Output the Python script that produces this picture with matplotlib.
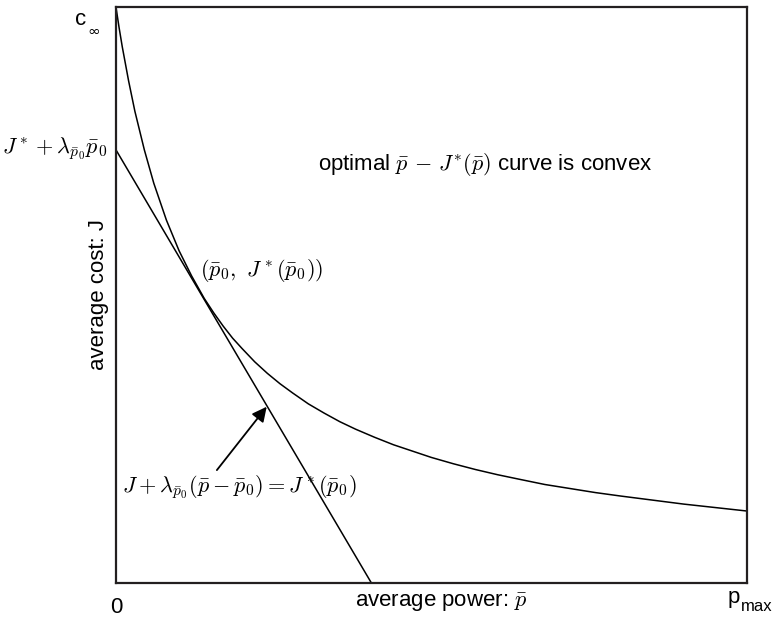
import matplotlib.pyplot as plt

plt.rcParams['font.family'] = ['Liberation Sans', 'DejaVu Sans']
plt.rcParams['mathtext.fontset'] = 'cm'

# ______________ data (p/pmax, J/c_inf) ______________
p_curve = [0.0, 0.005, 0.01, 0.02, 0.03, 0.045, 0.06, 0.08, 0.10, 0.12, 0.14,
           0.155, 0.17, 0.185, 0.20, 0.22, 0.24, 0.26, 0.28, 0.305, 0.33,
           0.355, 0.38, 0.41, 0.44, 0.47, 0.50, 0.535, 0.57, 0.605, 0.64,
           0.68, 0.72, 0.76, 0.80, 0.85, 0.90, 0.95, 1.00]
J_curve = [1.000, 0.964, 0.931, 0.872, 0.819, 0.752, 0.694, 0.630, 0.577,
           0.533, 0.494, 0.469, 0.446, 0.425, 0.407, 0.384, 0.364, 0.346,
           0.330, 0.311, 0.295, 0.280, 0.267, 0.253, 0.240, 0.229, 0.218,
           0.207, 0.197, 0.188, 0.180, 0.171, 0.164, 0.157, 0.151, 0.144,
           0.137, 0.131, 0.125]

p_tangent = [0.0, 0.405]
J_tangent = [0.752, 0.0]

arrow_tail = (0.160, 0.196)
arrow_head = (0.239, 0.306)

# ______________ plot ______________
fig = plt.figure(figsize=(7.73, 6.24), dpi=100)
ax = fig.add_axes([0.150, 0.0657, 0.816, 0.9231])

ax.plot(p_curve, J_curve, color='black', lw=1.1)
ax.plot(p_tangent, J_tangent, color='black', lw=1.1)

ax.annotate('', xy=arrow_head, xytext=arrow_tail,
            arrowprops=dict(arrowstyle='-|>', color='black', lw=1.3,
                            mutation_scale=22, shrinkA=0, shrinkB=0))

ax.set_xlim(0, 1)
ax.set_ylim(0, 1)
ax.set_xticks([])
ax.set_yticks([])
for s in ax.spines.values():
    s.set_linewidth(1.6)
    s.set_color('#231f20')

fs = 16
ax.set_ylabel('average cost: J', fontsize=fs)
ax.yaxis.set_label_coords(-0.011, 0.5)

# c_inf
ax.text(-0.065, 0.979, 'c', fontsize=fs, ha='left', va='center', clip_on=False)
ax.text(-0.046, 0.957, '\u221e', fontsize=11, family='DejaVu Sans',
        ha='left', va='center', clip_on=False)
ax.text(-0.014, 0.752, r'$J^* + \lambda_{\bar{p}_0}\bar{p}_0$', fontsize=fs,
        ha='right', va='center', clip_on=False)
ax.text(0.0, -0.042, '0', fontsize=fs, ha='center', va='center', clip_on=False)
ax.text(0.379, -0.035, r'average power: $\bar{p}$', fontsize=fs, ha='left',
        va='center', clip_on=False)
# p_max
ax.text(0.970, -0.026, 'p', fontsize=fs, ha='left', va='center', clip_on=False)
ax.text(0.991, -0.040, 'max', fontsize=12, ha='left', va='center',
        clip_on=False)
ax.text(0.320, 0.726, r'optimal $\bar{p}\, -\, J^{*}(\bar{p})$ curve is convex',
        fontsize=fs, ha='left', va='center')
ax.text(0.133, 0.543, r'$(\bar{p}_0,\ J^*(\bar{p}_0))$', fontsize=fs,
        ha='left', va='center')
ax.text(0.0095, 0.167, r'$J + \lambda_{\bar{p}_0}(\bar{p} - \bar{p}_0) = J^*(\bar{p}_0)$',
        fontsize=fs, ha='left', va='center')

plt.savefig('out.png', dpi=100)
